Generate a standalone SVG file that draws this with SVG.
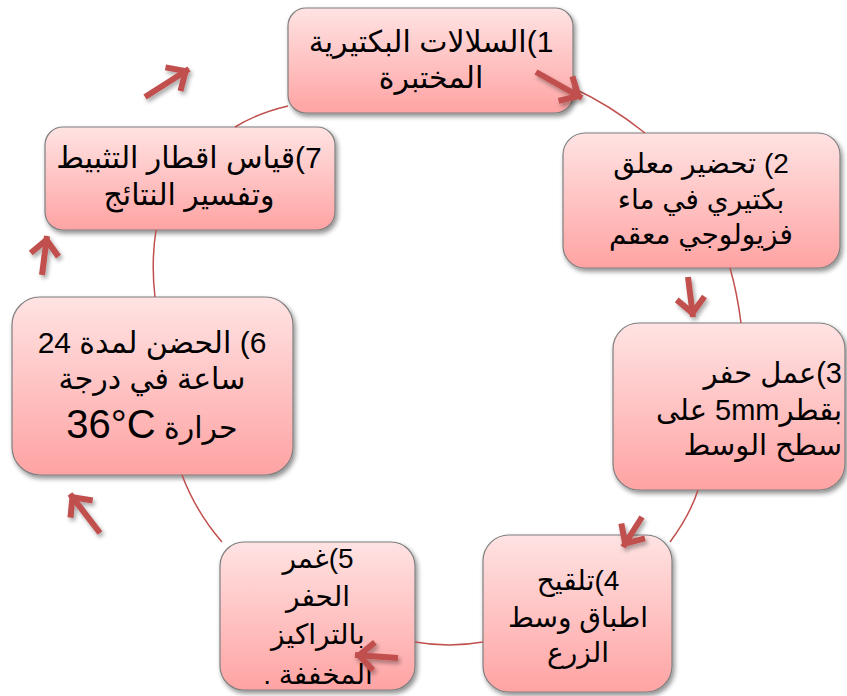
<svg xmlns="http://www.w3.org/2000/svg" width="847" height="696" viewBox="0 0 847 696">
  <defs>
    <style>
      .box { fill: url(#nodeFill); stroke: #7f7f7f; stroke-width: 1.2; filter: url(#boxShadow); }
      .label { font-family: "Liberation Sans", "DejaVu Sans", sans-serif; font-size: 28px; fill: #000; direction: rtl; text-anchor: middle; }
      .big { font-size: 30px; }
      .ring { fill: none; stroke: #c0504d; stroke-width: 1.5; }
      .arrow { fill: none; stroke: #c0504d; stroke-width: 6; marker-end: url(#head); filter: url(#arrowShadow); }
    </style>
    <linearGradient id="nodeFill" x1="0" y1="0" x2="0" y2="1">
      <stop offset="0" stop-color="#ffe3e3"/>
      <stop offset="1" stop-color="#ffa3a3"/>
    </linearGradient>
    <filter id="boxShadow" x="-10%" y="-10%" width="125%" height="130%">
      <feGaussianBlur in="SourceAlpha" stdDeviation="2.5"/>
      <feOffset dx="2" dy="3"/>
      <feComponentTransfer><feFuncA type="linear" slope="0.45"/></feComponentTransfer>
      <feMerge><feMergeNode/><feMergeNode in="SourceGraphic"/></feMerge>
    </filter>
    <!-- user-space region so thin (near vertical/horizontal) arrows keep their heads -->
    <filter id="arrowShadow" filterUnits="userSpaceOnUse" x="0" y="0" width="847" height="696">
      <feGaussianBlur in="SourceAlpha" stdDeviation="2"/>
      <feOffset dx="2" dy="3"/>
      <feComponentTransfer><feFuncA type="linear" slope="0.35"/></feComponentTransfer>
      <feMerge><feMergeNode/><feMergeNode in="SourceGraphic"/></feMerge>
    </filter>
    <marker id="head" markerUnits="userSpaceOnUse" markerWidth="44" markerHeight="44" viewBox="-32 -22 44 44" refX="0" refY="0" orient="auto">
      <path d="M-19,-14 L-4,0 L-19,14" fill="none" stroke="#c0504d" stroke-width="6"/>
    </marker>
    <clipPath id="clip5"><rect x="220" y="542" width="195" height="148" rx="24"/></clipPath>
  </defs>

  <rect width="847" height="696" fill="#ffffff"/>

  <!-- step 1 -->
  <g id="node1">
    <rect class="box" x="288" y="8" width="285" height="105" rx="18"/>
    <text class="label big" x="431" y="52">1)السلالات البكتيرية</text>
    <text class="label big" x="431" y="88">المختبرة</text>
  </g>

  <!-- step 2 -->
  <g id="node2">
    <rect class="box" x="563" y="133" width="277" height="135" rx="22"/>
    <text class="label" x="701" y="173">2) تحضير معلق</text>
    <text class="label" x="701" y="209">بكتيري في ماء</text>
    <text class="label" x="701" y="244">فزيولوجي معقم</text>
  </g>

  <!-- step 3 (right aligned) -->
  <g id="node3">
    <rect class="box" x="613" y="323" width="232" height="167" rx="26"/>
    <text class="label" x="842" y="383" style="text-anchor:start;font-size:29px">3)عمل حفر</text>
    <text class="label" x="842" y="420" style="text-anchor:start;font-size:29px">بقطر5mm على</text>
    <text class="label" x="842" y="455" style="text-anchor:start;font-size:29px">سطح الوسط</text>
  </g>

  <!-- step 4 -->
  <g id="node4">
    <rect class="box" x="483" y="535" width="189" height="157" rx="26"/>
    <text class="label" x="578" y="590">4)تلقيح</text>
    <text class="label" x="578" y="627">اطباق وسط</text>
    <text class="label" x="578" y="662">الزرع</text>
  </g>

  <!-- step 5 (last line runs past the box and is clipped) -->
  <g id="node5">
    <rect class="box" x="220" y="542" width="195" height="148" rx="24"/>
    <g clip-path="url(#clip5)">
      <text class="label" x="318" y="568">5)غمر</text>
      <text class="label" x="318" y="606">الحفر</text>
      <text class="label" x="318" y="644">بالتراكيز</text>
      <text class="label" x="318" y="684">المخففة .</text>
    </g>
  </g>

  <!-- step 6 -->
  <g id="node6">
    <rect class="box" x="12" y="297" width="281" height="178" rx="28"/>
    <text class="label big" x="152" y="353">6) الحضن لمدة 24</text>
    <text class="label big" x="152" y="389">ساعة في درجة</text>
    <text class="label big" x="152" y="438">حرارة &#x200E;<tspan style="font-size:40px">36°C</tspan></text>
  </g>

  <!-- step 7 -->
  <g id="node7">
    <rect class="box" x="45" y="127" width="290" height="103" rx="18"/>
    <text class="label big" x="189" y="168">7)قياس اقطار التثبيط</text>
    <text class="label big" x="189" y="205">وتفسير النتائج</text>
  </g>

  <!-- cycle ring segments between the steps, and direction arrows -->
  <g id="connectors">
    <path class="ring" d="M235,127 Q258,113 288,106"/>
    <path class="ring" d="M573,88 Q610,105 645,133"/>
    <path class="ring" d="M730,268 Q737,292 741,323"/>
    <path class="ring" d="M698,490 Q690,515 670,542"/>
    <path class="ring" d="M483,642 Q449,648 415,642"/>
    <path class="ring" d="M182,475 Q196,512 222,542"/>
    <path class="ring" d="M155,297 Q151,263 156,230"/>

    <path class="arrow" d="M536,72 L582,98"/>
    <path class="arrow" d="M688,277 L693,317"/>
    <path class="arrow" d="M642,517 L623,547"/>
    <path class="arrow" d="M398,658 L355,655"/>
    <path class="arrow" d="M100,533 L70,494"/>
    <path class="arrow" d="M42,275 L47,236"/>
    <path class="arrow" d="M145,97 L189,69"/>
  </g>
</svg>
